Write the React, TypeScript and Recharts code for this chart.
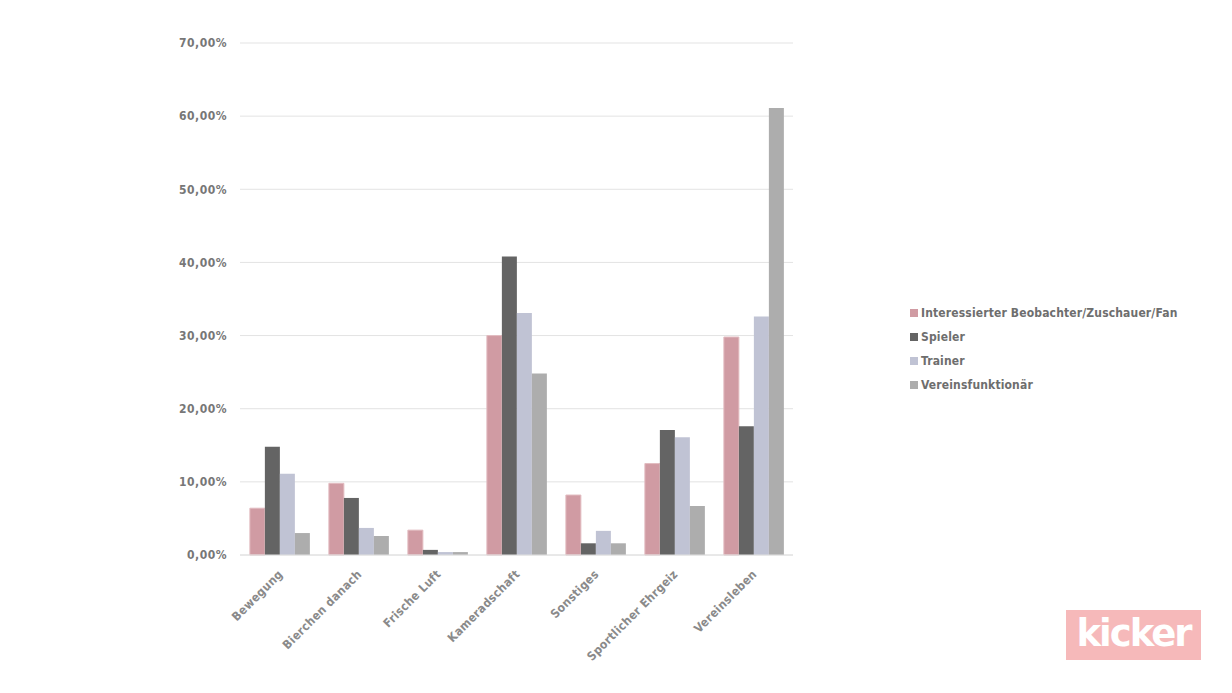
import { Bar, BarChart, CartesianGrid, XAxis, YAxis } from "recharts";

const categories = [
  "Bewegung",
  "Bierchen danach",
  "Frische Luft",
  "Kameradschaft",
  "Sonstiges",
  "Sportlicher Ehrgeiz",
  "Vereinsleben"
];

const fanValues = [6.4, 9.8, 3.4, 30.0, 8.2, 12.5, 29.8];
const spielerValues = [14.8, 7.8, 0.7, 40.8, 1.6, 17.1, 17.6];
const trainerValues = [11.1, 3.7, 0.4, 33.1, 3.3, 16.1, 32.6];
const funktionaerValues = [3.0, 2.6, 0.4, 24.8, 1.6, 6.7, 61.1];

const yTicks = [0, 10, 20, 30, 40, 50, 60, 70];

const series = [
  { key: "fan", name: "Interessierter Beobachter/Zuschauer/Fan", color: "#d09ba3", stroke: "#e2bcc1" },
  { key: "spieler", name: "Spieler", color: "#646464", stroke: "#646464" },
  { key: "trainer", name: "Trainer", color: "#c0c3d4", stroke: "#c0c3d4" },
  { key: "funktionaer", name: "Vereinsfunktionär", color: "#adadad", stroke: "#adadad" }
];

const data = categories.map((name, i) => ({
  name,
  fan: fanValues[i],
  spieler: spielerValues[i],
  trainer: trainerValues[i],
  funktionaer: funktionaerValues[i]
}));

const FONT = "'DejaVu Sans', sans-serif";

function formatPercent(v: number) {
  return v.toFixed(2).replace(".", ",") + "%";
}

function XTick({ x, y, payload }: any) {
  return (
    <g transform={`translate(${x + 4},${y + 12}) rotate(-45)`}>
      <text
        x={0}
        y={0}
        textAnchor="end"
        fill="#8a8a8a"
        fontFamily={FONT}
        fontWeight="bold"
        fontSize={12}
        fontStretch="condensed"
        letterSpacing={0.3}
      >
        {payload.value}
      </text>
    </g>
  );
}

export default function App() {
  return (
    <div style={{ position: "relative", width: 1216, height: 677, background: "#fff" }}>
      <BarChart
        width={1216}
        height={677}
        data={data}
        margin={{ top: 35, right: 431, bottom: 0, left: 172 }}
        barCategoryGap="12.5%"
        barGap={0}
      >
        <CartesianGrid vertical={false} stroke="#e3e3e3" />
        <XAxis
          dataKey="name"
          tick={<XTick />}
          tickLine={false}
          axisLine={{ stroke: "#e0e0e0" }}
          interval={0}
          height={130}
        />
        <YAxis
          width={60}
          domain={[0, 70]}
          ticks={yTicks}
          tickFormatter={formatPercent}
          axisLine={false}
          tickLine={false}
          tickMargin={7}
          tick={{ fill: "#777", fontFamily: FONT, fontWeight: "bold", fontSize: 12, fontStretch: "condensed", letterSpacing: 0.5 }}
        />
        {series.map((s) => (
          <Bar
            key={s.key}
            dataKey={s.key}
            name={s.name}
            fill={s.color}
            stroke={s.stroke}
            strokeWidth={s.key === "fan" ? 1 : 0}
            isAnimationActive={false}
          />
        ))}
      </BarChart>
      <div
        style={{
          position: "absolute",
          left: 902,
          top: 293,
          whiteSpace: "nowrap",
          fontFamily: FONT,
          fontWeight: "bold",
          fontSize: 12,
          fontStretch: "condensed",
          color: "#6e6e6e",
          letterSpacing: 0.15
        }}
      >
        {series.map((s) => (
          <div key={s.key} style={{ display: "flex", alignItems: "center", height: 24 }}>
            <span style={{ width: 8, height: 8, background: s.color, marginRight: 3, display: "inline-block" }} />
            {s.name}
          </div>
        ))}
      </div>
      <div
        style={{
          position: "absolute",
          left: 1058,
          top: 602,
          width: 135,
          height: 50,
          background: "#f6b9ba",
          color: "#fff",
          fontFamily: FONT,
          fontWeight: "bold",
          fontSize: 37,
          lineHeight: "48px",
          textAlign: "center",
          letterSpacing: -2
        }}
      >
        kicker
      </div>
    </div>
  );
}
